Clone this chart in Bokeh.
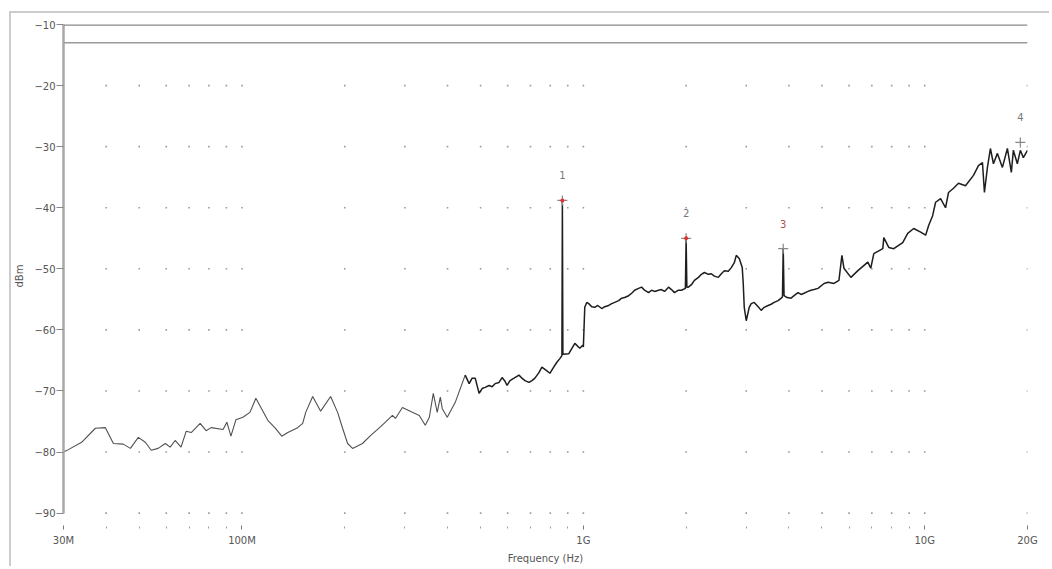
import itertools
from bokeh.plotting import figure
from bokeh.models import Range1d, FixedTicker, Span, ColumnDataSource
from bokeh.core.properties import value
from bokeh.embed import file_html
from bokeh.resources import INLINE

# ---- data (frequency in MHz, level in dBm) ----
freq_mhz = [30.0, 31.0, 33.9, 37.2, 39.8, 42.0, 44.9, 47.1, 49.7, 52.1, 54.2, 56.8, 59.6, 61.6,
            63.7, 66.3, 68.6, 71.0, 75.4, 78.5, 81.2, 88.0, 90.3, 92.8, 96.0, 100.6, 105.5, 109.8,
            113.6, 119.0, 124.8, 130.8, 136.2, 145.6, 150.6, 153.7, 161.1, 170.0, 181.8, 190.6,
            197.1, 203.9, 210.8, 225.4, 237.9, 252.8, 263.2, 275.9, 281.5, 295.0, 315.5, 330.7,
            344.3, 353.8, 363.4, 373.2, 381.0, 386.1, 399.3, 421.2, 450.6, 462.9, 472.2, 482.1,
            495.0, 505.2, 515.4, 529.5, 540.3, 551.1, 566.1, 578.1, 589.5, 597.6, 609.6, 626.4,
            639.0, 647.7, 660.9, 674.4, 692.7, 706.8, 721.2, 741.0, 756.0, 776.7, 798.0, 814.2,
            836.4, 853.2, 865.2, 868.0, 871.0, 906.6, 944.1, 976.2, 996.0, 1000.0, 1009.5,
            1023, 1037, 1058, 1080, 1102, 1132, 1155, 1186, 1211, 1235, 1269, 1295, 1321, 1357,
            1385, 1413, 1451, 1481, 1511, 1553, 1584, 1616, 1660, 1694, 1729, 1776, 1812, 1849,
            1899, 1938, 1990, 2000, 2010, 2031, 2073, 2115, 2173, 2217, 2262, 2324, 2371, 2419,
            2485, 2536, 2588, 2658, 2712, 2768, 2805, 2862, 2920, 2940, 2960, 3000, 3061, 3102,
            3165, 3252, 3318, 3387, 3477, 3548, 3622, 3720, 3797, 3830, 3850, 3872, 3952, 4058,
            4142, 4254, 4341, 4430, 4551, 4643, 4738, 4868, 5071, 5209, 5421, 5606, 5720, 5798,
            6078, 6370, 6813, 6950, 7093, 7536, 7587, 7845, 8114, 8620, 8916, 9282, 9730, 10062,
            10267, 10547, 10761, 11129, 11507, 11741, 12143, 12558, 13164, 13892, 14366, 14760,
            14958, 15263, 15574, 15893, 16327, 16886, 17463, 17936, 18180, 18675, 19057, 19446,
            20000]
level_dbm = [-80.0, -79.6, -78.4, -76.1, -76.0, -78.6, -78.7, -79.4, -77.6, -78.4, -79.7, -79.4,
             -78.6, -79.2, -78.1, -79.2, -76.6, -76.8, -75.3, -76.5, -76.0, -76.3, -75.1, -77.4,
             -74.7, -74.3, -73.5, -71.2, -72.7, -74.8, -76.0, -77.4, -76.8, -76.0, -75.3, -73.5,
             -70.9, -73.3, -70.9, -73.5, -76.1, -78.6, -79.4, -78.6, -77.3, -76.0, -75.1, -74.0,
             -74.5, -72.7, -73.5, -74.0, -75.6, -74.3, -70.4, -73.5, -71.0, -72.9, -74.3, -71.9,
             -67.4, -68.8, -67.9, -67.9, -70.4, -69.6, -69.4, -69.1, -69.3, -68.8, -68.6, -67.8,
             -68.4, -69.1, -68.3, -67.9, -67.6, -67.4, -67.9, -68.3, -68.6, -68.3, -67.9, -67.0,
             -66.1, -66.6, -67.1, -66.3, -65.3, -64.7, -64.2, -38.8, -64.0, -63.9, -62.2, -63.0,
             -62.5, -62.8, -56.3, -55.5, -55.7, -56.2, -56.3, -56.0, -56.5, -56.2, -56.0, -55.7,
             -55.5, -55.2, -54.8, -54.7, -54.4, -54.0, -53.5, -53.2, -53.0, -53.5, -53.9, -53.5,
             -53.7, -53.5, -53.4, -53.7, -53.0, -53.4, -53.9, -53.5, -53.5, -53.2, -45.0, -53.0,
             -53.0, -52.6, -51.9, -51.4, -50.9, -50.6, -50.9, -50.8, -51.2, -51.4, -50.8, -50.3,
             -50.4, -49.8, -49.0, -47.8, -48.3, -49.8, -52.4, -56.3, -58.5, -56.3, -55.7, -55.5,
             -56.2, -56.8, -56.3, -56.0, -55.8, -55.5, -55.2, -54.8, -54.6, -46.7, -54.4, -54.7,
             -54.8, -54.4, -53.9, -54.2, -54.0, -53.7, -53.5, -53.4, -53.2, -52.4, -52.2, -52.4,
             -51.9, -47.8, -49.9, -51.4, -50.3, -48.9, -49.9, -47.5, -46.7, -44.9, -46.5, -46.7,
             -45.7, -44.2, -43.4, -44.0, -44.5, -42.9, -41.3, -39.1, -38.5, -40.0, -37.5, -36.8,
             -36.0, -36.4, -34.7, -33.1, -32.6, -37.5, -33.4, -30.3, -32.8, -31.1, -33.4, -30.3,
             -34.2, -30.6, -32.8, -30.6, -31.8, -30.6]

marker_freq_mhz = [868, 2000, 3850, 19057]
marker_level = [-38.8, -45.0, -46.7, -29.3]
marker_label = ["1", "2", "3", "4"]
marker_label_color = ["#777777", "#777777", "#b05050", "#777777"]
marker_has_dot = [True, True, False, False]

limit_lines = [-10, -13]

y_ticks = [-10, -20, -30, -40, -50, -60, -70, -80, -90]
x_major_ticks_hz = [30e6, 100e6, 1e9, 10e9, 20e9]
x_major_labels = ["30M", "100M", "1G", "10G", "20G"]
x_minor_ticks_hz = ([m * 1e7 for m in range(4, 10)] + [m * 1e8 for m in range(2, 10)]
                    + [m * 1e9 for m in range(2, 10)])

FONT = "DejaVu Sans"

p = figure(width=1040, height=555, x_axis_type="log",
           x_range=Range1d(30e6, 20e9), y_range=Range1d(-92.35, -10),
           output_backend="svg", toolbar_location=None,
           min_border_left=49, min_border_right=24, min_border_top=11, min_border_bottom=41)
p.styles = {"margin-left": "9px", "margin-top": "11px",
            "border-left": "2px solid #cccccc", "border-top": "2px solid #cccccc"}
p.outline_line_color = None
p.xgrid.grid_line_color = None
p.ygrid.grid_line_color = None
p.background_fill_color = "white"
p.border_fill_color = "white"

# dotted grid at tick intersections
grid_x = x_minor_ticks_hz + x_major_ticks_hz[1:]
grid_y = y_ticks[1:]
gx, gy = zip(*itertools.product(grid_x, grid_y))
p.scatter(list(gx), list(gy), marker="square", size=1.6, color="#9a9a9a", line_color=None)

# limit lines
for lv, lw, lc in zip(limit_lines, [2.5, 1.5], ["#8a8a8a", "#9a9a9a"]):
    p.add_layout(Span(location=lv, dimension="width", line_color=lc, line_width=lw))

# trace: lighter below ~450 MHz, denser/darker above (as in the analyser display)
hz = [f * 1e6 for f in freq_mhz]
split = next(i for i, f in enumerate(freq_mhz) if f >= 450)
p.line(hz[:split + 1], level_dbm[:split + 1], line_color="#505050", line_width=1.1)
p.line(hz[split:], level_dbm[split:], line_color="#1e1e1e", line_width=1.5)

# markers
mhz = [f * 1e6 for f in marker_freq_mhz]
msrc = ColumnDataSource(dict(x=mhz, y=marker_level, t=marker_label, c=marker_label_color))
p.scatter("x", "y", source=msrc, marker="cross", size=10, line_color="#888888", line_width=1.2)
dot_x = [x for x, d in zip(mhz, marker_has_dot) if d]
dot_y = [y for y, d in zip(marker_level, marker_has_dot) if d]
p.scatter(dot_x, dot_y, marker="circle", size=4, color="#e03030", line_color=None)
p.text("x", "y", text="t", source=msrc, y_offset=-25, text_align="center",
       text_baseline="middle", text_font=value(FONT), text_font_size="10px", text_color="c")

# axes
xa = p.xaxis[0]
xa.ticker = FixedTicker(ticks=x_major_ticks_hz, minor_ticks=x_minor_ticks_hz)
xa.major_label_overrides = {t: l for t, l in zip(x_major_ticks_hz, x_major_labels)}
xa.axis_line_color = None
xa.major_tick_in = 2
xa.major_tick_out = 2
xa.minor_tick_in = 1
xa.minor_tick_out = 1
xa.major_tick_line_color = "#777777"
xa.minor_tick_line_color = "#999999"
xa.major_label_standoff = 5
xa.major_label_text_font = FONT
xa.major_label_text_font_size = "10px"
xa.major_label_text_color = "#555555"
xa.axis_label = "Frequency (Hz)"
xa.axis_label_standoff = 4
xa.axis_label_text_font = FONT
xa.axis_label_text_font_size = "10px"
xa.axis_label_text_font_style = "normal"
xa.axis_label_text_color = "#555555"

ya = p.yaxis[0]
ya.ticker = FixedTicker(ticks=y_ticks)
ya.bounds = (min(y_ticks), max(y_ticks))
ya.axis_line_color = "#a8a8a8"
ya.axis_line_width = 2.5
ya.major_tick_in = 0
ya.major_tick_out = 7
ya.minor_tick_out = 0
ya.minor_tick_in = 0
ya.major_tick_line_color = "#888888"
ya.major_label_standoff = 1
ya.major_label_text_font = FONT
ya.major_label_text_font_size = "10px"
ya.major_label_text_color = "#555555"
ya.axis_label = "dBm"
ya.axis_label_standoff = 6
ya.axis_label_text_font = FONT
ya.axis_label_text_font_size = "10px"
ya.axis_label_text_font_style = "normal"
ya.axis_label_text_color = "#555555"

open("out.html", "w").write(file_html(p, INLINE))
